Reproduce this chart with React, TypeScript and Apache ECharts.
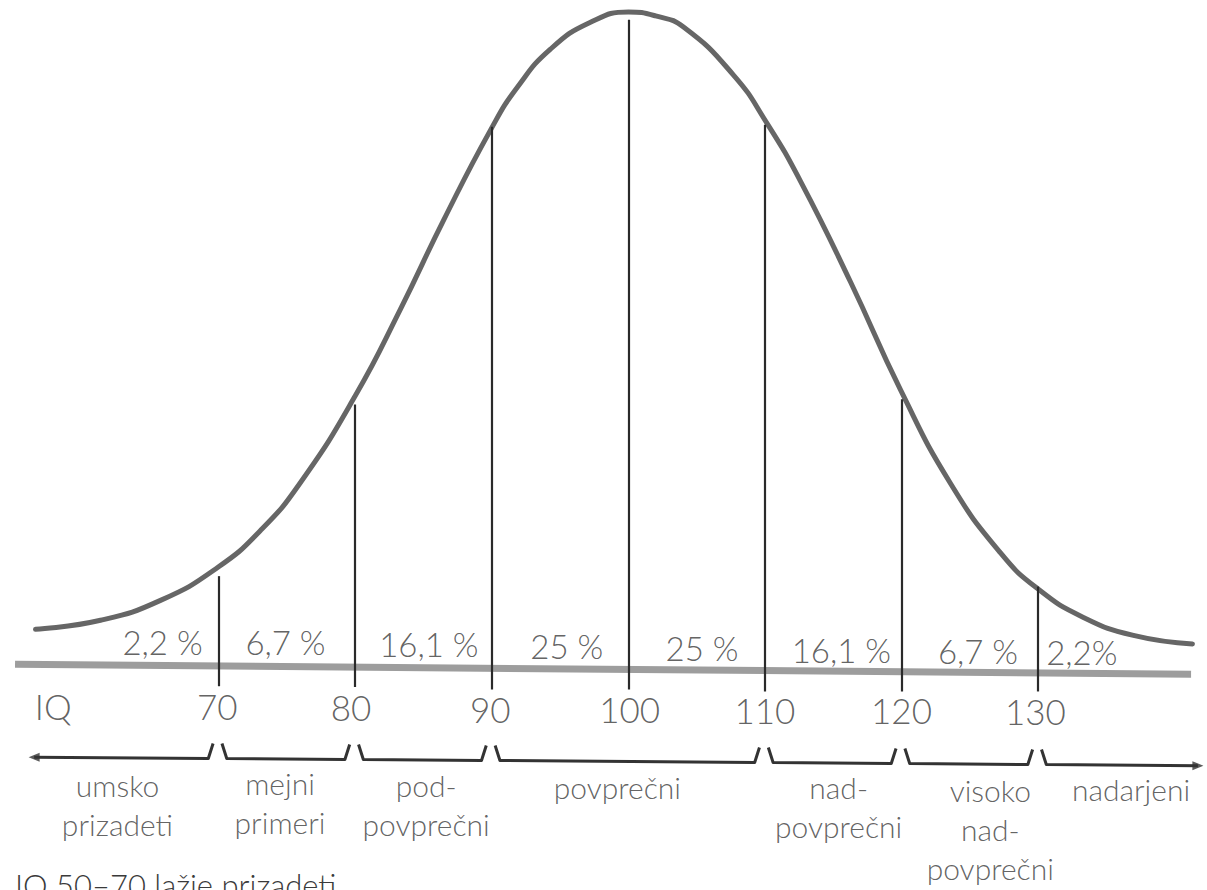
import React, { useEffect, useRef } from "react";
import * as echarts from "echarts";

// Bell curve (IQ, relative height; 100 = peak)
const curveIQ = [56.6, 61.36, 65.75, 69.93, 73.07, 76.0, 80.03, 83.32, 86.47, 89.99, 91.89, 94.3, 97.23, 100.01, 102.0, 104.04, 107.7, 110.12, 112.61, 116.27, 119.93, 123.59, 127.25, 130.03, 133.32, 136.98, 141.3];
const curveHeight = [5.79, 7.17, 10.2, 15.22, 20.87, 28.2, 41.5, 54.66, 68.2, 82.28, 88.55, 94.33, 98.43, 100, 99.4, 97.7, 90.38, 83.12, 74.16, 58.79, 42.32, 28.05, 17.44, 11.88, 7.6, 4.85, 3.55];

// Divider lines
const dividerIQ = [70, 80, 90, 100, 110, 120, 130];
const dividerTop = [13.9, 40.1, 82.5, 98.8, 82.8, 40.9, 12.3];
const dividerBottom = [-2.9, -3.0, -3.4, -3.4, -3.7, -3.7, -3.7];

// Baseline (slightly tilted)
const baselineIQ = [55.1, 141.2];
const baselineY = [0.46, -1.07];

// Percentage labels
const pctText = ["2,2 %", "6,7 %", "16,1 %", "25 %", "25 %", "16,1 %", "6,7 %", "2,2%"];
const pctIQ = [65.9, 74.9, 85.4, 95.5, 105.4, 115.6, 125.6, 133.2];
const pctY = [3.8, 3.8, 3.5, 3.2, 3.0, 2.7, 2.4, 2.3];

// IQ scale labels
const scaleText = ["IQ", "70", "80", "90", "100", "110", "120", "130"];
const scaleIQ = [57.9, 69.9, 79.7, 89.9, 100.1, 110, 120, 129.8];
const scaleY = [-5.9, -5.9, -6.1, -6.4, -6.4, -6.6, -6.6, -6.7];

// Category ranges (brace boundaries) and names
const braceBounds = [56.5, 70, 80, 90, 110, 120, 130, 141.7];
const catText = ["umsko\nprizadeti", "mejni\nprimeri", "pod-\npovprečni", "povprečni", "nad-\npovprečni", "visoko\nnad-\npovprečni", "nadarjeni"];
const catIQ = [62.6, 74.5, 85.2, 99.2, 115.4, 126.5, 136.8];
const catY = [-20.9, -20.6, -21.0, -18.3, -21.3, -24.7, -18.6];

const noteText = "IQ 50–70 lažje prizadeti";

const FONT = "Lato";
const TEXT_COLOR = "#3a3a3a";

export default function App() {
  const ref = useRef<HTMLDivElement>(null);
  useEffect(() => {
    if (!ref.current) return;
    const chart = echarts.init(ref.current, null, { renderer: "svg" });

    const tilt = (iq: number) => -(iq - 56) * 0.0152;
    const tipY = (iq: number) => -11.43 + tilt(iq);
    const botY = (iq: number) => -13.72 + tilt(iq);

    const braces: any[] = [];
    for (let i = 0; i < braceBounds.length - 1; i++) {
      const a = braceBounds[i];
      const b = braceBounds[i + 1];
      const pts: number[][] = [];
      if (i === 0) {
        pts.push([a, botY(a)]);
      } else {
        pts.push([a + 0.25, tipY(a)]);
        pts.push([a + 0.6, botY(a)]);
      }
      if (i === braceBounds.length - 2) {
        pts.push([b, botY(b)]);
      } else {
        pts.push([b - 0.75, botY(b)]);
        pts.push([b - 0.4, tipY(b)]);
      }
      braces.push({ coords: pts });
    }

    const first = braceBounds[0];
    const last = braceBounds[braceBounds.length - 1];

    const textLabel = (size: number, extra: any = {}) => ({
      show: true,
      position: "inside",
      formatter: (p: any) => p.name,
      fontFamily: FONT,
      fontWeight: 300,
      fontSize: size,
      color: TEXT_COLOR,
      ...extra,
    });

    chart.setOption({
      animation: false,
      backgroundColor: "#ffffff",
      title: {
        text: noteText,
        left: 15,
        top: 869,
        padding: 0,
        textStyle: { fontFamily: FONT, fontWeight: 300, fontSize: 31, color: TEXT_COLOR },
      },
      grid: { left: 0, right: 5, top: 12, height: 879 },
      xAxis: { type: "value", min: 54, max: 142, show: false },
      yAxis: { type: "value", min: -34, max: 100, show: false },
      series: [
        {
          type: "line",
          data: baselineIQ.map((x, i) => [x, baselineY[i]]),
          symbol: "none",
          clip: false,
          z: 1,
          lineStyle: { color: "#9d9d9d", width: 7 },
        },
        {
          type: "line",
          data: curveIQ.map((x, i) => [x, curveHeight[i]]),
          symbol: "none",
          smooth: 0.5,
          clip: false,
          z: 2,
          lineStyle: { color: "#666666", width: 5, cap: "round" },
        },
        {
          type: "lines",
          coordinateSystem: "cartesian2d",
          data: dividerIQ.map((x, i) => ({ coords: [[x, dividerBottom[i]], [x, dividerTop[i]]] })),
          clip: false,
          z: 3,
          lineStyle: { color: "#2a2a2a", width: 2.2, opacity: 1 },
        },
        {
          type: "lines",
          coordinateSystem: "cartesian2d",
          polyline: true,
          data: braces,
          clip: false,
          z: 3,
          lineStyle: { color: "#333333", width: 3, opacity: 1, join: "round" },
        },
        {
          type: "scatter",
          data: [
            { value: [first, botY(first)], symbolRotate: 90 },
            { value: [last, botY(last)], symbolRotate: -90 },
          ],
          symbol: "triangle",
          symbolSize: [9, 11],
          clip: false,
          z: 4,
          itemStyle: { color: "#333333" },
        },
        {
          type: "scatter",
          data: pctIQ.map((x, i) => ({ value: [x, pctY[i]], name: pctText[i] })),
          symbolSize: 0,
          clip: false,
          z: 5,
          label: textLabel(33),
        },
        {
          type: "scatter",
          data: scaleIQ.map((x, i) => ({ value: [x, scaleY[i]], name: scaleText[i] })),
          symbolSize: 0,
          clip: false,
          z: 5,
          label: textLabel(35),
        },
        {
          type: "scatter",
          data: catIQ.map((x, i) => ({ value: [x, catY[i]], name: catText[i] })),
          symbolSize: 0,
          clip: false,
          z: 5,
          label: textLabel(30, { lineHeight: 39, align: "center" }),
        },
      ],
    });
    return () => chart.dispose();
  }, []);

  return (
    <div
      ref={ref}
      style={{ position: "absolute", left: 0, top: 0, width: 1207, height: 890, background: "#fff" }}
    />
  );
}
